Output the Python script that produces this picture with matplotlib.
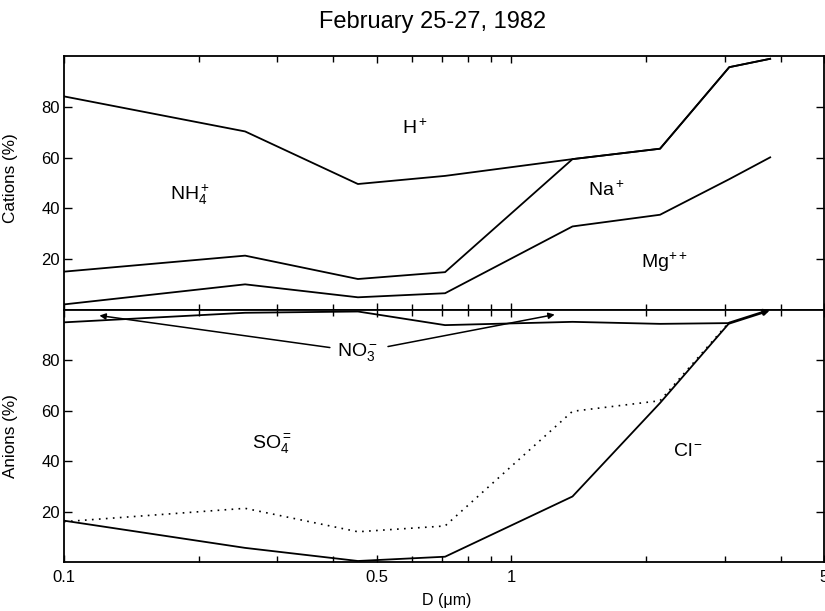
import matplotlib
matplotlib.use("Agg")
import matplotlib.pyplot as plt
from matplotlib.ticker import FixedLocator, NullFormatter, FixedFormatter

plt.rcParams['font.family'] = ['Liberation Sans', 'DejaVu Sans']
plt.rcParams['mathtext.fontset'] = 'custom'
plt.rcParams['mathtext.rm'] = 'Liberation Sans'
plt.rcParams['mathtext.it'] = 'Liberation Sans:italic'
plt.rcParams['mathtext.bf'] = 'Liberation Sans:bold'

# ---------------- data ----------------
diam = [0.1, 0.254, 0.454, 0.711, 1.37, 2.15, 3.07, 3.79]

# cations (cumulative boundaries, %)
cat_h_bound = [84.1, 70.3, 49.6, 52.8, 59.4, 63.5, 95.6, 98.9]
cat_nh4_bound = [15.1, 21.4, 12.2, 14.9, 59.4, 63.5, 95.6, 98.9]
cat_mg_bound = [2.2, 10.1, 5.0, 6.6, 32.9, 37.5, 51.5, 60.1]

# anions (cumulative boundaries, %)
an_diam = [0.1, 0.254, 0.454, 0.711, 1.37, 2.15, 3.07]
an_no3_bound = [95.1, 98.9, 99.4, 94.0, 95.3, 94.5, 94.8]
an_cl_bound = [16.4, 5.6, 0.4, 2.1, 26.0, 63.1, 94.8]
an_dotted = [16.0, 21.3, 12.0, 14.3, 59.8, 64.0, 95.2]
an_end = (3.79, 100.0)

cat_labels = [(0.61, 71.8, r'H$^+$'), (0.191, 45.4, r'NH$_4^+$'),
              (1.63, 47.3, r'Na$^+$'), (2.2, 18.9, r'Mg$^{++}$')]
an_labels = [(0.454, 83.5, r'NO$_3^-$'), (0.292, 46.5, r'SO$_4^=$'),
             (2.48, 43.7, r'Cl$^-$')]
no3_arrows = [((0.393, 85.1), (0.120, 97.8)), ((0.530, 85.5), (1.25, 98.2))]

xticks_major = [0.1, 0.5, 1, 5]
xtick_labels = ['0.1', '0.5', '1', '5']
xticks_minor = [0.2, 0.3, 0.4, 0.6, 0.7, 0.8, 0.9, 2, 3, 4]
yticks = [20, 40, 60, 80]

# ---------------- figure ----------------
fig = plt.figure(figsize=(8.25, 6.11), dpi=100)
L, W = 64 / 825, 760 / 825
ax1 = fig.add_axes([L, (611 - 310) / 611, W, 254 / 611])
ax2 = fig.add_axes([L, (611 - 562) / 611, W, 252 / 611])

lw = 1.3
for ax in (ax1, ax2):
    ax.set_xscale('log')
    ax.set_xlim(0.1, 5)
    ax.set_ylim(0, 100)
    ax.xaxis.set_major_locator(FixedLocator(xticks_major))
    ax.xaxis.set_minor_locator(FixedLocator(xticks_minor))
    ax.xaxis.set_minor_formatter(NullFormatter())
    ax.set_yticks(yticks)
    ax.yaxis.set_minor_locator(FixedLocator([]))
    ax.tick_params(axis='both', which='both', direction='in', top=True,
                   right=True, width=1.0, labelsize=12)
    ax.tick_params(axis='x', which='major', length=5)
    ax.tick_params(axis='x', which='minor', length=4)
    ax.tick_params(axis='y', which='major', length=6, pad=3)
    for s in ax.spines.values():
        s.set_linewidth(1.3)

ax1.xaxis.set_major_formatter(NullFormatter())
ax2.xaxis.set_major_formatter(FixedFormatter(xtick_labels))
ax2.tick_params(axis='x', which='major', pad=6)

# cations
ax1.plot(diam, cat_h_bound, color='k', lw=lw)
ax1.plot(diam, cat_nh4_bound, color='k', lw=lw)
ax1.plot(diam, cat_mg_bound, color='k', lw=lw)
for x, y, t in cat_labels:
    ax1.text(x, y, t, fontsize=14, ha='center', va='center')

# anions
ax2.plot(an_diam, an_no3_bound, color='k', lw=lw)
ax2.plot(an_diam, an_cl_bound, color='k', lw=lw)
ax2.plot(an_diam, an_dotted, color='k', lw=1.2, linestyle=(0, (1, 3.2)))
ax2.annotate('', xy=an_end, xytext=(an_diam[-1], an_cl_bound[-1]),
             arrowprops=dict(arrowstyle='-|>', color='k', lw=2.0,
                             mutation_scale=8, shrinkA=0, shrinkB=0))
for tail, head in no3_arrows:
    ax2.annotate('', xy=head, xytext=tail,
                 arrowprops=dict(arrowstyle='-|>', color='k', lw=1.1,
                                 mutation_scale=9, shrinkA=0, shrinkB=0))
for x, y, t in an_labels:
    ax2.text(x, y, t, fontsize=14, ha='center', va='center')

ax1.set_ylabel('Cations (%)', fontsize=12.3)
ax2.set_ylabel('Anions (%)', fontsize=12.3)
ax1.yaxis.set_label_coords(-0.06, 0.52)
ax2.yaxis.set_label_coords(-0.061, 0.5)
ax2.set_xlabel('D (μm)', fontsize=11.5)
ax2.xaxis.set_label_coords(0.504, -0.123)

fig.text(0.524, 1 - 22 / 611, 'February 25-27, 1982', ha='center',
         va='center', fontsize=17)

fig.savefig('out.png', dpi=100)
